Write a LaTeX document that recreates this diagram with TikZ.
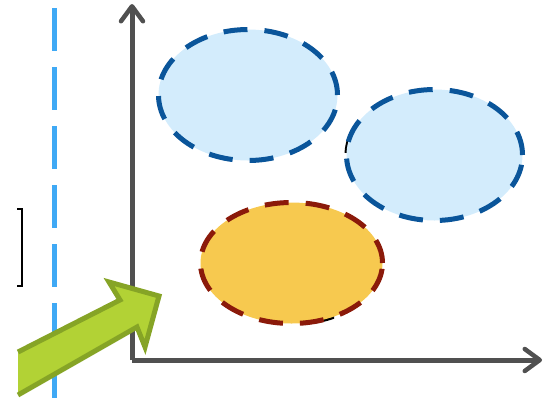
\documentclass[tikz,border=0pt]{standalone}
\usetikzlibrary{arrows.meta,shapes.geometric}
\definecolor{guide}{HTML}{3FA9F5}
\definecolor{axisgray}{HTML}{505050}
\definecolor{skyfill}{HTML}{D3ECFC}
\definecolor{skyline}{HTML}{0A559A}
\definecolor{sunfill}{HTML}{F7C94F}
\definecolor{sunline}{HTML}{8B1A0A}
\definecolor{leaffill}{HTML}{B2D235}
\definecolor{leafline}{HTML}{86A426}
\tikzset{
  axisline/.style={draw=axisgray, line width=5pt,
    -{Straight Barb[length=15pt,width=22pt,line width=4.5pt,round]}},
  cluster/.style={ellipse, inner sep=0pt, line width=5pt, dash pattern=on 24pt off 17pt},
  bluecluster/.style={cluster, draw=skyline, fill=skyfill},
  orangecluster/.style={cluster, draw=sunline, fill=sunfill},
}
\begin{document}
\begin{tikzpicture}[x=1pt,y=-1pt]
  \useasboundingbox (0,0) rectangle (553,397);
  % dashed guide line
  \draw[guide, line width=5pt, dash pattern=on 43pt off 16pt] (54,8) -- (54,400);
  % bracket
  \draw[black, line width=2pt] (17,209) -- (21.5,209) -- (21.5,286) -- (17,286);
  % axes
  \coordinate (origin) at (132,360);
  \coordinate (ytip) at (132,4);
  \coordinate (xtip) at (542,360);
  \draw[axisline] (origin) -- (ytip);
  \draw[axisline] (origin) -- (xtip);
  % dark outlines peeking out behind the clusters
  \begin{scope}
    \clip (340,128) rectangle (350,152);
    \draw[black, line width=3pt] (434,155) ellipse [x radius=88pt, y radius=65pt];
  \end{scope}
  \begin{scope}
    \clip (314,316) rectangle (334,332);
    \draw[black, line width=3pt] (292,264) ellipse [x radius=91pt, y radius=60pt];
  \end{scope}
  % clusters
  \node[bluecluster, minimum width=179pt, minimum height=131pt] (c1) at (248,95) {};
  \node[bluecluster, minimum width=176pt, minimum height=131pt] (c2) at (434.5,155) {};
  \node[orangecluster, minimum width=182pt, minimum height=121pt] (c3) at (291.5,263) {};
  % block arrow
  \draw[fill=leaffill, draw=leafline, line width=5pt, line join=miter]
    (18,352) -- (120,300) -- (109,282) -- (159,296) -- (145,347) -- (137,327) -- (18,395);
\end{tikzpicture}
\end{document}
